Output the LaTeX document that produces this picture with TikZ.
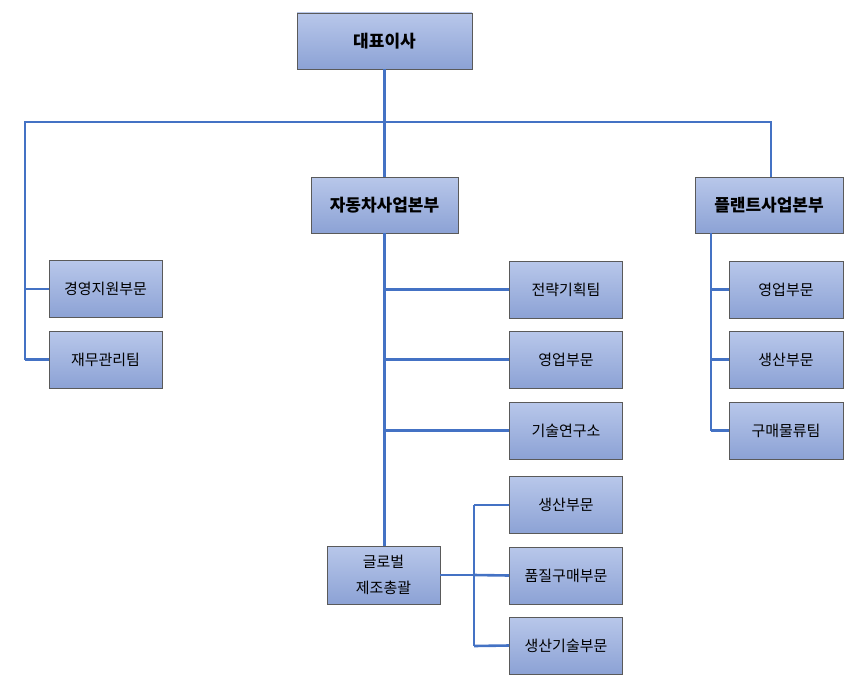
\documentclass[tikz,border=0pt]{standalone}
\usepackage{fontspec}
\setmainfont{Noto Sans CJK KR}
\definecolor{btop}{RGB}{184,199,234}
\definecolor{bbot}{RGB}{140,162,213}
\definecolor{lnc}{RGB}{68,114,196}
\definecolor{bord}{RGB}{90,90,90}
\tikzset{
 bx/.style={draw=bord,line width=0.8pt,top color=btop,bottom color=bbot,minimum width=113pt,minimum height=57pt,inner sep=0pt,align=center,font=\fontsize{15pt}{22pt}\selectfont},
 bigbx/.style={bx,font=\bfseries\fontsize{17pt}{22pt}\selectfont},
 ln/.style={draw=lnc,line width=2.6pt}
}
\begin{document}
\begin{tikzpicture}[x=1pt,y=-1pt]
\useasboundingbox (0,0) rectangle (866,682);
\node[bigbx,minimum width=175pt,minimum height=56pt] (ceo) at (384.5,41) {대표이사};
\node[bigbx,minimum width=147pt,minimum height=56pt] (auto) at (384.5,205) {자동차사업본부};
\node[bigbx,minimum width=148pt,minimum height=56pt] (plant) at (769,205) {플랜트사업본부};
\node[bx] (l1) at (105.5,289) {경영지원부문};
\node[bx] (l2) at (105.5,359.5) {재무관리팀};
\node[bx] (a1) at (566,289.5) {전략기획팀};
\node[bx] (a2) at (566,359.5) {영업부문};
\node[bx] (a3) at (566,430.5) {기술연구소};
\node[bx] (g1) at (566,505) {생산부문};
\node[bx] (g2) at (566,575.5) {품질구매부문};
\node[bx] (g3) at (566,645.5) {생산기술부문};
\node[bx,minimum height=58pt,font=\fontsize{15pt}{26pt}\selectfont] (glob) at (383.5,575) {글로벌\\제조총괄};
\node[bx,minimum width=114pt] (p1) at (786,289.5) {영업부문};
\node[bx,minimum width=114pt] (p2) at (786,359.5) {생산부문};
\node[bx,minimum width=114pt] (p3) at (786,430.5) {구매물류팀};
\coordinate (hl) at (25,122);
\coordinate (hr) at (771,122);
\begin{scope}[on background layer/.style={}]
\path[ln] (ceo.south) -- (auto.north);
\path[ln] (hl |- l2.west) -- (hl) -- (hr) -- (plant.north -| hr);
\path[ln] (hl |- l1.west) -- (l1.west);
\path[ln] (hl |- l2.west) -- (l2.west);
\path[ln] (auto.south) -- (glob.north -| auto.south);
\path[ln] (a1.west -| auto.south) -- (a1.west);
\path[ln] (a2.west -| auto.south) -- (a2.west);
\path[ln] (a3.west -| auto.south) -- (a3.west);
\path[ln] (glob.east) -- (474,575);
\path[ln] (474,505) -- (474,646);
\path[ln] (474,505) -- (g1.west);
\path[ln] (474,575) -- (g2.west);
\path[ln] (474,646) -- (g3.west);
\path[ln] (711,233) -- (711,431);
\path[ln] (711,289.5) -- (p1.west);
\path[ln] (711,359.5) -- (p2.west);
\path[ln] (711,430.5) -- (p3.west);
\end{scope}
\end{tikzpicture}
\end{document}
